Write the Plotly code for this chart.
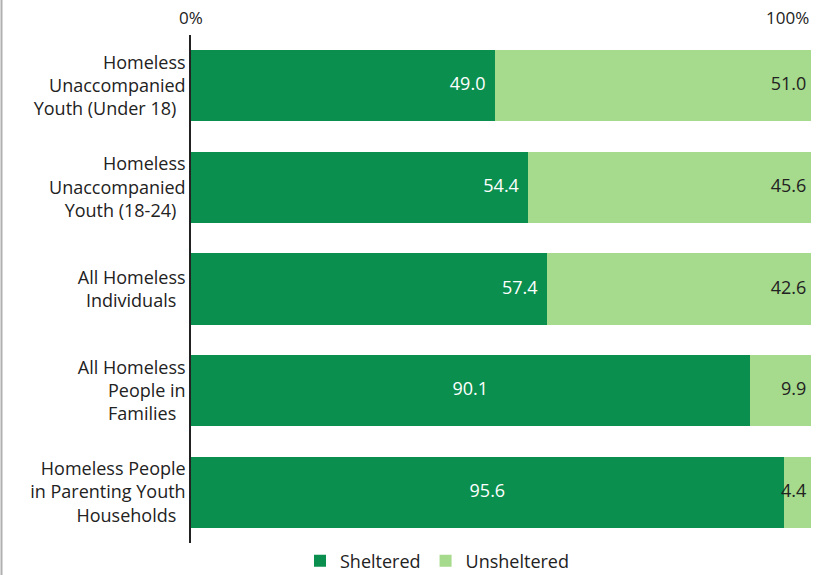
import plotly.graph_objects as go

categories = [
    "Homeless<br>Unaccompanied<br>Youth (Under 18)",
    "Homeless<br>Unaccompanied<br>Youth (18-24)",
    "All Homeless<br>Individuals",
    "All Homeless<br>People in<br>Families",
    "Homeless People<br>in Parenting Youth<br>Households",
]
sheltered = [49.0, 54.4, 57.4, 90.1, 95.6]
unsheltered = [51.0, 45.6, 42.6, 9.9, 4.4]
tick_vals = [0, 100]
tick_text = ["0%", "100%"]

FONT = "'Open Sans', Lato, sans-serif"
dark = "#0a8f4f"
light = "#a6da8c"
W, H = 829, 575
ML, MR, MT, MB = 191, 18, 35, 32
PW, PH = W - ML - MR, H - MT - MB
PAD = "\u00a0\u00a0"

fig = go.Figure()
fig.add_trace(go.Bar(
    y=categories, x=sheltered, orientation="h", name="Sheltered",
    marker=dict(color=dark, line=dict(width=0)), hoverinfo="x+name",
))
fig.add_trace(go.Bar(
    y=categories, x=unsheltered, orientation="h", name="Unsheltered",
    marker=dict(color=light, line=dict(width=0)), hoverinfo="x+name",
))

# value labels
dark_x = [v if v < 80 else v / 2 for v in sheltered]
dark_pos = ["middle left" if v < 80 else "middle center" for v in sheltered]
dark_txt = [f"{v:.1f}" + (PAD if v < 80 else "") for v in sheltered]
fig.add_trace(go.Scatter(
    y=categories, x=dark_x, mode="text", text=dark_txt, textposition=dark_pos,
    textfont=dict(color="white", size=18, family=FONT),
    showlegend=False, hoverinfo="skip",
))
light_x = [s + u for s, u in zip(sheltered, unsheltered)]
fig.add_trace(go.Scatter(
    y=categories, x=light_x, mode="text",
    text=[f"{v:.1f}" + "\u00a0" for v in unsheltered], textposition="middle left",
    textfont=dict(color="#222222", size=18, family=FONT),
    showlegend=False, hoverinfo="skip", cliponaxis=False,
))

annotations = [
    dict(x=v, y=1 + (MT - 17) / PH, xref="x", yref="paper", text=t,
         showarrow=False, xanchor=("center" if v == 0 else "right"), yanchor="middle",
         font=dict(size=17, family=FONT, color="#222222"))
    for v, t in zip(tick_vals, tick_text)
]

fig.update_layout(
    barmode="stack", bargap=0.3,
    width=W, height=H,
    margin=dict(l=ML, r=MR, t=MT, b=MB, autoexpand=False),
    paper_bgcolor="white", plot_bgcolor="white",
    font=dict(family=FONT, size=18, color="#222222"),
    xaxis=dict(range=[0, 100], showticklabels=False,
               showgrid=False, zeroline=False, showline=False, ticks="",
               fixedrange=True),
    yaxis=dict(autorange="reversed", showgrid=False, zeroline=False,
               showline=True, linecolor="#222222", linewidth=1.5,
               ticks="", ticksuffix="  ", tickfont=dict(size=18), automargin=False),
    legend=dict(orientation="h", x=(300 - ML) / PW, xanchor="left",
                y=-(561 - (H - MB)) / PH, yanchor="middle",
                font=dict(size=18), traceorder="normal"),
    annotations=annotations,
    shapes=[dict(type="line", xref="paper", yref="paper",
                 x0=-(ML - 1.5) / PW, x1=-(ML - 1.5) / PW, y0=-MB / PH, y1=1 + MT / PH,
                 line=dict(color="#b0b0b0", width=2))],
)
fig.write_html("out.html", post_script="document.body.style.margin='0';",
               config={"displayModeBar": False})
